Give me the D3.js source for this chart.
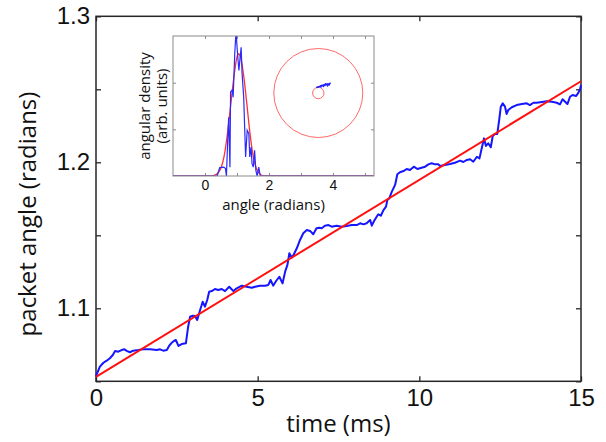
<!DOCTYPE html>
<html lang="en">
<head>
<meta charset="UTF-8">
<title>Packet angle vs time</title>
<script src="https://d3js.org/d3.v7.min.js"></script>
<style>
  body { margin: 0; background: #fff; }
  svg { display: block; font-family: "Open Sans", sans-serif; }
</style>
</head>
<body>
<div id="chart"></div>
<script>
// main trace: packet angle (radians) against time (ms)
const timeMs = [0,0.12,0.23,0.33,0.43,0.52,0.59,0.69,0.79,0.88,
  0.95,1.05,1.15,1.31,1.46,1.67,1.88,1.98,2.08,2.19,
  2.26,2.34,2.41,2.47,2.55,2.65,2.78,2.85,2.91,2.99,
  3.06,3.13,3.22,3.30,3.37,3.44,3.50,3.58,3.68,3.78,
  3.89,3.99,4.12,4.25,4.35,4.51,4.66,4.82,4.92,5.07,
  5.23,5.33,5.40,5.48,5.57,5.67,5.77,5.85,5.92,5.98,
  6.05,6.12,6.21,6.31,6.41,6.52,6.62,6.72,6.82,6.91,
  6.98,7.08,7.19,7.29,7.44,7.60,7.75,7.91,8.06,8.17,
  8.27,8.37,8.48,8.53,8.60,8.68,8.73,8.81,8.89,8.97,
  9.01,9.07,9.15,9.25,9.32,9.40,9.51,9.61,9.71,9.83,
  9.94,10.07,10.18,10.28,10.38,10.49,10.59,10.64,10.79,10.95,
  11.10,11.26,11.36,11.47,11.57,11.67,11.78,11.86,11.93,12.00,
  12.06,12.13,12.21,12.27,12.34,12.41,12.47,12.52,12.58,12.65,
  12.70,12.75,12.86,13.01,13.17,13.32,13.42,13.53,13.63,13.79,
  13.94,14.10,14.25,14.35,14.43,14.51,14.58,14.66,14.74,14.85,
  14.92,14.97,15.0];
const packetAngle = [1.0536,1.0600,1.0627,1.0641,1.0658,1.0680,1.0708,1.0703,1.0714,1.0719,
  1.0708,1.0699,1.0710,1.0714,1.0719,1.0719,1.0714,1.0719,1.0710,1.0714,
  1.0742,1.0764,1.0776,1.0783,1.0742,1.0755,1.0760,1.0874,1.0942,1.0949,
  1.0947,1.0920,1.0988,1.1045,1.1011,1.1057,1.1114,1.1118,1.1132,1.1125,
  1.1132,1.1118,1.1148,1.1118,1.1137,1.1155,1.1148,1.1141,1.1148,1.1155,
  1.1155,1.1160,1.1194,1.1155,1.1187,1.1216,1.1171,1.1251,1.1297,1.1377,
  1.1347,1.1370,1.1411,1.1468,1.1514,1.1536,1.1530,1.1507,1.1548,1.1552,
  1.1548,1.1566,1.1570,1.1559,1.1566,1.1559,1.1564,1.1570,1.1570,1.1582,
  1.1575,1.1582,1.1605,1.1566,1.1598,1.1627,1.1644,1.1634,1.1673,1.1696,
  1.1742,1.1753,1.1799,1.1845,1.1918,1.1932,1.1940,1.1954,1.1947,1.1970,
  1.1954,1.1963,1.1970,1.1986,1.1993,1.1986,1.1986,1.1975,1.1981,1.1988,
  1.1997,1.2011,1.2002,1.2016,1.2021,1.2004,1.2038,1.2027,1.2096,1.2164,
  1.2112,1.2130,1.2103,1.2180,1.2194,1.2194,1.2290,1.2381,1.2404,1.2381,
  1.2331,1.2358,1.2377,1.2392,1.2399,1.2404,1.2392,1.2408,1.2408,1.2413,
  1.2418,1.2415,1.2408,1.2397,1.2432,1.2415,1.2399,1.2449,1.2461,1.2454,
  1.2477,1.2500,1.2529];

// straight-line fit
const fitTime = [0, 15];
const fitAngle = [1.053, 1.2555];

const xTicks = [0, 5, 10, 15];
const yTicks = [1.05, 1.1, 1.15, 1.2, 1.25, 1.3];
const yTickLabels = ["", "1.1", "", "1.2", "", "1.3"];

// inset: angular density histogram and gaussian fit
const histAngle = [-1,0.38,0.46,0.59,0.64,0.67,0.71,0.74,0.78,0.80,
  0.85,0.88,0.93,0.97,1.01,1.06,1.09,1.13,1.16,1.21,
  1.27,1.32,1.37,1.40,1.44,1.47,1.51,1.55,1.59,1.63,
  1.68,1.73,5.28];
const histDensity = [0,0,0.18,0.19,0.16,0,0.76,1.26,0.19,1.80,
  1.84,1.69,2.62,3.1,2.69,2.26,2.48,2.76,2.19,1.69,
  0.41,0.98,0.91,0.41,0.62,0.27,0.19,0.55,0.12,0,
  0.19,0,0];
const gaussAngle = [-1,0.2,0.3,0.4,0.5,0.6,0.7,0.8,0.9,1.0,1.05,1.1,1.2,1.3,1.4,1.5,1.6,1.7,1.8,1.9,5.28];
const gaussDensity = [0,0,0.02,0.06,0.17,0.43,0.9,1.5,2.1,2.55,2.62,2.57,2.2,1.6,0.95,0.45,0.17,0.05,0.01,0,0];
const insetXTicks = [0, 1, 2, 3, 4, 5];
const insetXLabels = ["0", "", "2", "", "4", ""];
const insetYTicks = [1, 2];

// inset polar view: outer / inner circle radii and packet points (outer radius = 1)
const circleRadii = [1, 0.128];
const polarX = [-0.029,0.004,0.038,0.061,0.083,0.106,0.128,0.151,0.173,0.196,0.218,0.240,0.263,0.061,0.117,0.162,0.207];
const polarY = [0.128,0.139,0.151,0.162,0.173,0.166,0.184,0.178,0.196,0.189,0.202,0.184,0.218,0.139,0.151,0.207,0.162];

const width = 606, height = 442;
const svg = d3.select("#chart").append("svg")
    .attr("width", width)
    .attr("height", height);

// ---- main plot ----
const x = d3.scaleLinear().domain([0, 15]).range([96, 581]);
const y = d3.scaleLinear().domain([1.05, 1.3]).range([381.3, 16.3]);

const axisColor = "#262626";

svg.append("g")
    .attr("transform", `translate(0,${y.range()[0]})`)
    .call(d3.axisBottom(x).tickValues(xTicks).tickSize(-5).tickPadding(8).tickFormat(d3.format("d")))
    .call(g => g.selectAll("text").style("font-size", "24px").attr("fill", "#111"));
svg.append("g")
    .attr("transform", `translate(0,${y.range()[1]})`)
    .call(d3.axisTop(x).tickValues(xTicks).tickSize(-5).tickFormat(""));
svg.append("g")
    .attr("transform", `translate(${x.range()[0]},0)`)
    .call(d3.axisLeft(y).tickValues(yTicks).tickSize(-5).tickPadding(6).tickFormat((d, i) => yTickLabels[i]))
    .call(g => g.selectAll("text").style("font-size", "24px").attr("fill", "#111"));
svg.append("g")
    .attr("transform", `translate(${x.range()[1]},0)`)
    .call(d3.axisRight(y).tickValues(yTicks).tickSize(-5).tickFormat(""));

svg.selectAll(".domain").remove();
svg.selectAll(".tick line").attr("stroke", axisColor).attr("stroke-width", 1.3);

svg.append("rect")
    .attr("x", x.range()[0]).attr("y", y.range()[1])
    .attr("width", x.range()[1] - x.range()[0])
    .attr("height", y.range()[0] - y.range()[1])
    .attr("fill", "none")
    .attr("stroke", axisColor)
    .attr("stroke-width", 1.5);

svg.append("text")
    .attr("x", (x.range()[0] + x.range()[1]) / 2)
    .attr("y", 432)
    .attr("text-anchor", "middle")
    .style("font-size", "24px")
    .attr("fill", "#111")
    .text("time (ms)");

svg.append("text")
    .attr("transform", "translate(36,214) rotate(-90)")
    .attr("text-anchor", "middle")
    .style("font-size", "24px")
    .attr("fill", "#111")
    .text("packet angle (radians)");

const mainLine = d3.line().x(d => x(d[0])).y(d => y(d[1]));

svg.append("path")
    .datum(d3.zip(timeMs, packetAngle))
    .attr("fill", "none")
    .attr("stroke", "#1515ff")
    .attr("stroke-width", 2)
    .attr("stroke-linejoin", "round")
    .attr("d", mainLine);

svg.append("path")
    .datum(d3.zip(fitTime, fitAngle))
    .attr("fill", "none")
    .attr("stroke", "#ff1010")
    .attr("stroke-width", 2)
    .attr("d", mainLine);

// ---- inset ----
const ix = d3.scaleLinear().domain([-1, 2 * Math.PI - 1]).range([173, 374]);
const iy = d3.scaleLinear().domain([0, 3]).range([176, 36]);
const insetColor = "#8a8a8a";

svg.append("rect")
    .attr("x", ix.range()[0]).attr("y", iy.range()[1])
    .attr("width", ix.range()[1] - ix.range()[0])
    .attr("height", iy.range()[0] - iy.range()[1])
    .attr("fill", "#fff");

svg.append("defs").append("clipPath").attr("id", "inset-clip")
  .append("rect")
    .attr("x", ix.range()[0]).attr("y", iy.range()[1])
    .attr("width", ix.range()[1] - ix.range()[0])
    .attr("height", iy.range()[0] - iy.range()[1]);

const inset = svg.append("g");

inset.append("g")
    .attr("transform", `translate(0,${iy.range()[0]})`)
    .call(d3.axisBottom(ix).tickValues(insetXTicks).tickSize(-3).tickPadding(4).tickFormat((d, i) => insetXLabels[i]))
    .call(g => g.selectAll("text").style("font-size", "14px").attr("fill", "#111"));
inset.append("g")
    .attr("transform", `translate(0,${iy.range()[1]})`)
    .call(d3.axisTop(ix).tickValues(insetXTicks).tickSize(-3).tickFormat(""));
inset.append("g")
    .attr("transform", `translate(${ix.range()[0]},0)`)
    .call(d3.axisLeft(iy).tickValues(insetYTicks).tickSize(-3).tickFormat(""));
inset.append("g")
    .attr("transform", `translate(${ix.range()[1]},0)`)
    .call(d3.axisRight(iy).tickValues(insetYTicks).tickSize(-3).tickFormat(""));
inset.selectAll(".domain").remove();
inset.selectAll(".tick line").attr("stroke", insetColor);

const insetLine = d3.line().x(d => ix(d[0])).y(d => iy(d[1]));
const plotArea = inset.append("g").attr("clip-path", "url(#inset-clip)");

plotArea.append("path")
    .datum(d3.zip(gaussAngle, gaussDensity))
    .attr("fill", "none")
    .attr("stroke", "#ff3030")
    .attr("stroke-width", 1.3)
    .attr("d", insetLine.curve(d3.curveMonotoneX));

plotArea.append("path")
    .datum(d3.zip(histAngle, histDensity))
    .attr("fill", "none")
    .attr("stroke", "#2a2aff")
    .attr("stroke-width", 1.2)
    .attr("d", d3.line().x(d => ix(d[0])).y(d => iy(d[1])));

// polar view
const pr = d3.scaleLinear().domain([0, 1]).range([0, 44.5]);
const cx = 318.3, cy = 93;
plotArea.selectAll(".ring")
    .data(circleRadii)
    .join("circle")
    .attr("cx", cx).attr("cy", cy)
    .attr("r", d => pr(d))
    .attr("fill", "none")
    .attr("stroke", "#ff6a6a")
    .attr("stroke-width", 1);

const pts = d3.zip(polarX, polarY);
plotArea.append("path")
    .datum(pts.slice(0, 13))
    .attr("fill", "none")
    .attr("stroke", "#2020ff")
    .attr("stroke-width", 1.2)
    .attr("d", d3.line().x(d => cx + pr(d[0])).y(d => cy - pr(d[1])));
plotArea.selectAll(".pt")
    .data(pts)
    .join("circle")
    .attr("cx", d => cx + pr(d[0]))
    .attr("cy", d => cy - pr(d[1]))
    .attr("r", 0.9)
    .attr("fill", "#2020ff");

inset.append("rect")
    .attr("x", ix.range()[0]).attr("y", iy.range()[1])
    .attr("width", ix.range()[1] - ix.range()[0])
    .attr("height", iy.range()[0] - iy.range()[1])
    .attr("fill", "none")
    .attr("stroke", insetColor)
    .attr("stroke-width", 1);

inset.append("text")
    .attr("x", (ix.range()[0] + ix.range()[1]) / 2)
    .attr("y", 210)
    .attr("text-anchor", "middle")
    .style("font-size", "15px")
    .attr("fill", "#111")
    .text("angle (radians)");

inset.append("text")
    .attr("transform", "translate(150,106) rotate(-90)")
    .attr("text-anchor", "middle")
    .style("font-size", "15px")
    .attr("fill", "#111")
    .text("angular density");
inset.append("text")
    .attr("transform", "translate(167,106) rotate(-90)")
    .attr("text-anchor", "middle")
    .style("font-size", "15px")
    .attr("fill", "#111")
    .text("(arb. units)");
</script>
</body>
</html>
